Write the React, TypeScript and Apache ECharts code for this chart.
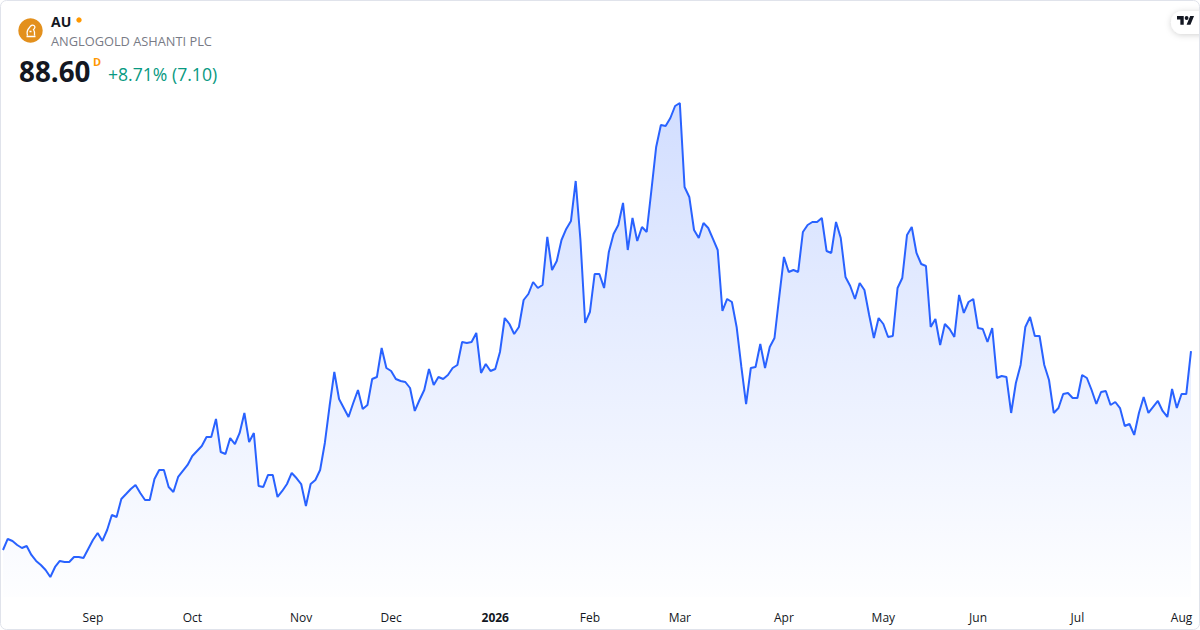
import React, { useEffect, useRef } from "react";
import * as echarts from "echarts";

// ---- data ----
const startDate = "2025-08-05";
const holidays = [
  "2025-09-01", "2025-11-27", "2025-12-25", "2026-01-01", "2026-01-19",
  "2026-02-16", "2026-04-03", "2026-05-25", "2026-06-19", "2026-07-03",
];
const monthNames = ["Jan", "Feb", "Mar", "Apr", "May", "Jun", "Jul", "Aug", "Sep", "Oct", "Nov", "Dec"];

const prices = [
  55.77, 57.59, 57.26, 56.6, 56.1, 56.43, 54.95, 53.96, 53.3, 52.47,
  51.32, 52.97, 53.96, 53.79, 53.79, 54.62, 54.62, 54.45, 55.94, 57.42,
  58.58, 57.26, 59.07, 61.55, 61.22, 64.19, 65.01, 65.84, 66.5, 65.18,
  64.02, 64.02, 67.49, 68.97, 68.97, 66.17, 65.34, 67.82, 68.81, 69.8,
  71.28, 72.11, 72.93, 74.42, 74.42, 77.39, 71.94, 71.61, 74.25, 73.26,
  75.08, 78.38, 73.59, 75.08, 66.33, 66.17, 68.15, 68.15, 64.52, 65.51,
  66.66, 68.48, 67.65, 66.66, 63.03, 66.66, 67.32, 68.97, 73.43, 79.53,
  85.14, 80.69, 79.2, 77.72, 80.03, 82.17, 79.04, 79.7, 83.99, 84.32,
  89.1, 85.8, 85.31, 83.99, 83.66, 83.49, 82.5, 78.71, 80.52, 82.17,
  85.64, 83.0, 84.32, 83.99, 84.65, 85.8, 86.3, 90.09, 89.93, 90.09,
  91.58, 84.98, 86.46, 85.31, 85.64, 88.44, 94.05, 93.06, 91.41, 92.57,
  97.02, 98.01, 99.99, 99.0, 99.5, 107.42, 101.97, 103.46, 106.92, 108.74,
  110.06, 116.66, 106.92, 93.23, 95.04, 101.31, 101.31, 99.0, 104.94, 107.91,
  109.4, 113.03, 105.27, 110.55, 106.76, 109.07, 108.24, 115.17, 122.27, 125.9,
  125.73, 127.05, 129.03, 129.53, 115.67, 114.02, 108.57, 107.25, 109.73, 108.9,
  107.09, 105.27, 95.21, 97.19, 96.69, 92.57, 85.97, 79.86, 85.8, 85.97,
  89.76, 85.8, 89.27, 90.75, 97.52, 104.12, 101.64, 101.97, 101.64, 108.24,
  109.4, 109.89, 109.89, 110.55, 105.11, 104.78, 109.89, 107.25, 100.82, 99.33,
  97.19, 99.83, 98.67, 94.55, 90.75, 94.05, 93.06, 90.92, 91.08, 99.0,
  100.65, 107.75, 109.07, 104.78, 102.96, 102.63, 92.57, 93.89, 89.6, 93.06,
  92.24, 90.92, 97.85, 94.88, 96.69, 97.19, 92.4, 92.24, 90.09, 92.4,
  84.15, 84.48, 84.32, 78.38, 83.33, 86.3, 92.57, 94.22, 91.08, 91.08,
  86.3, 83.82, 78.38, 79.2, 81.51, 81.68, 80.85, 80.85, 84.65, 84.15,
  82.17, 79.86, 81.84, 82.01, 79.7, 80.19, 79.2, 76.23, 76.56, 74.75,
  78.38, 81.02, 78.38, 79.37, 80.36, 78.71, 77.72, 82.34, 79.2, 81.51,
  81.5, 88.6,
];

const symbol = "AU";
const companyName = "ANGLOGOLD ASHANTI PLC";
const lastPrice = "88.60";
const changeText = "+8.71% (7.10)";

// trading-day categories
function buildDates(): string[] {
  const out: string[] = [];
  const d = new Date(startDate + "T00:00:00Z");
  while (out.length < prices.length) {
    const iso = d.toISOString().slice(0, 10);
    const wd = d.getUTCDay();
    if (wd !== 0 && wd !== 6 && holidays.indexOf(iso) < 0) out.push(iso);
    d.setUTCDate(d.getUTCDate() + 1);
  }
  return out;
}
const dates = buildDates();

const FONT = '"Open Sans", "Noto Sans", sans-serif';

export default function App() {
  const ref = useRef<HTMLDivElement>(null);
  useEffect(() => {
    if (!ref.current) return;
    echarts.graphic.registerShape(
      "tvlogo",
      echarts.graphic.extendPath("M14 22H7V11H0V4h14v18zM28 22h-8l7.5-18h8L28 22zM24 8a4 4 0 1 1-8 0a4 4 0 1 1 8 0z", {})
    );
    echarts.graphic.registerShape(
      "aulogo",
      echarts.graphic.extendPath(
        "M9 17 C8 14 9 11 11 9 C12 7 14 6 15.5 7 C17 8 16.5 10 15 11 C16 12.5 16.5 14.5 16 17 M11 13 L13 13 M8 18 L17 18",
        {}
      )
    );
    const chart = echarts.init(ref.current, undefined, { renderer: "svg" });
    const monthStart = new Set<number>();
    for (let i = 1; i < dates.length; i++) {
      if (dates[i].slice(5, 7) !== dates[i - 1].slice(5, 7)) monthStart.add(i);
    }
    const option: any = {
      animation: false,
      grid: { left: 3, right: 9, top: 88, bottom: 32.9 },
      xAxis: {
        type: "category",
        data: dates,
        boundaryGap: false,
        axisLine: { show: false },
        axisTick: { show: false },
        splitLine: { show: false },
        axisLabel: {
          interval: (idx: number) => monthStart.has(idx),
          margin: 14,
          fontFamily: FONT,
          fontSize: 12,
          color: "#131722",
          formatter: (v: string) => {
            const m = parseInt(v.slice(5, 7), 10);
            if (m === 1) return "{y|" + v.slice(0, 4) + "}";
            return monthNames[m - 1];
          },
          rich: {
            y: { fontFamily: FONT, fontSize: 12, fontWeight: "bold", color: "#131722" },
          },
        },
      },
      yAxis: { type: "value", min: 48, max: 132, show: false, splitLine: { show: false } },
      series: [
        {
          type: "line",
          data: prices,
          symbol: "none",
          showSymbol: false,
          lineStyle: { color: "#2962ff", width: 2 },
          itemStyle: { color: "#2962ff" },
          areaStyle: {
            color: new echarts.graphic.LinearGradient(0, 0, 0, 1, [
              { offset: 0, color: "rgba(41,98,255,0.30)" },
              { offset: 1, color: "rgba(41,98,255,0.01)" },
            ]),
          },
        },
      ],
      graphic: [
        {
          type: "rect",
          shape: { x: 0.5, y: 0.5, width: 1199, height: 629, r: 6 },
          style: { fill: "none", stroke: "#e0e3eb", lineWidth: 1 },
          silent: true,
          z: 100,
        },
        { type: "circle", shape: { cx: 30.5, cy: 30.5, r: 12.2 }, style: { fill: "#e3901d" } },
        {
          type: "aulogo",
          x: 18.5,
          y: 18.5,
          scaleX: 1,
          scaleY: 1,
          style: { fill: "none", stroke: "#ffffff", lineWidth: 1.3 },
        },
        {
          type: "text",
          x: 51,
          y: 21,
          style: { text: symbol, fill: "#131722", font: "bold 14px " + FONT, verticalAlign: "middle", textVerticalAlign: "middle" },
        },
        { type: "circle", shape: { cx: 79, cy: 20, r: 2.7 }, style: { fill: "#ff9800" } },
        {
          type: "text",
          x: 51,
          y: 41,
          style: { text: companyName, fill: "#787b86", font: "12.8px " + FONT, verticalAlign: "middle", textVerticalAlign: "middle" },
        },
        {
          type: "text",
          x: 19,
          y: 71,
          style: { text: lastPrice, fill: "#131722", font: "bold 27.8px " + FONT, verticalAlign: "middle", textVerticalAlign: "middle" },
        },
        {
          type: "text",
          x: 93,
          y: 61.5,
          style: { text: "D", fill: "#ff9800", font: "bold 11px " + FONT, verticalAlign: "middle", textVerticalAlign: "middle" },
        },
        {
          type: "text",
          x: 108,
          y: 73.5,
          style: { text: changeText, fill: "#089981", font: "17.6px " + FONT, verticalAlign: "middle", textVerticalAlign: "middle" },
        },
        {
          type: "rect",
          shape: { x: 1171, y: 11, width: 44, height: 23, r: 11.5 },
          style: { fill: "#ffffff", shadowBlur: 6, shadowColor: "rgba(0,0,0,0.18)", shadowOffsetY: 1 },
        },
        {
          type: "tvlogo",
          x: 1177,
          y: 14.2,
          scaleX: 0.48,
          scaleY: 0.48,
          style: { fill: "#131722" },
        },
      ],
    };
    chart.setOption(option);
    return () => chart.dispose();
  }, []);
  return (
    <div
      ref={ref}
      style={{ position: "fixed", left: 0, top: 0, width: 1200, height: 630, background: "#ffffff" }}
    />
  );
}
